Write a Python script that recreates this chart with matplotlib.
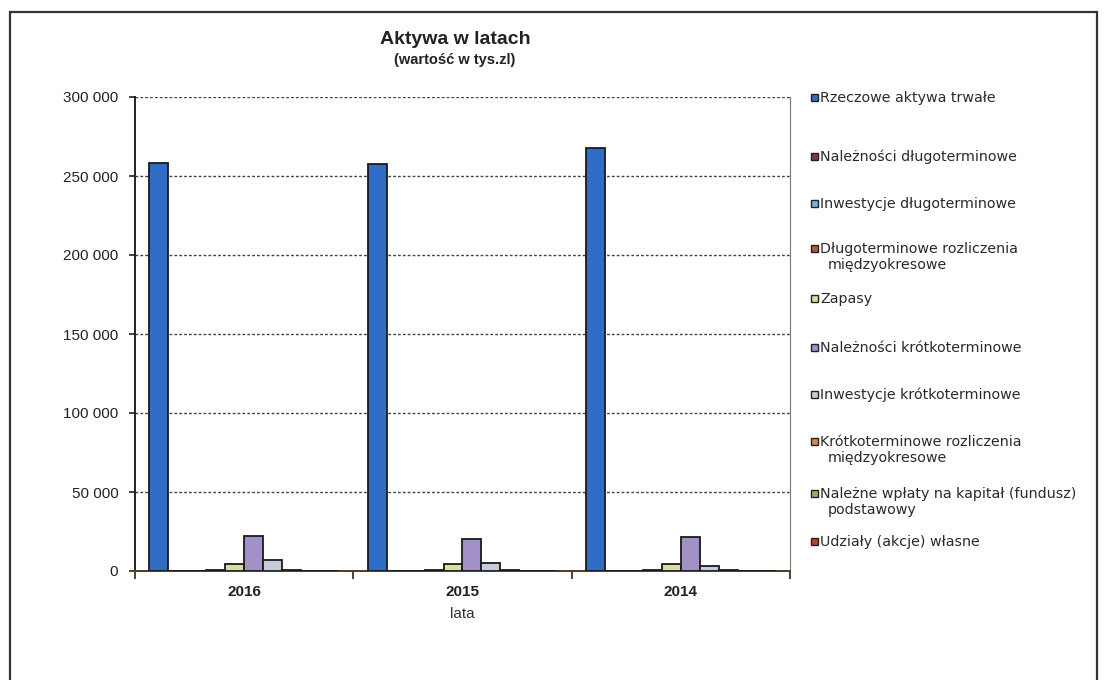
import matplotlib
matplotlib.use("Agg")
import matplotlib.pyplot as plt
from matplotlib.patches import Rectangle
from matplotlib.ticker import FuncFormatter, FixedLocator
import numpy as np

plt.rcParams["font.family"] = ["Liberation Sans", "DejaVu Sans"]

years = ["2016", "2015", "2014"]
series_labels = [
    "Rzeczowe aktywa trwałe",
    "Należności długoterminowe",
    "Inwestycje długoterminowe",
    "Długoterminowe rozliczenia\nmiędzyokresowe",
    "Zapasy",
    "Należności krótkoterminowe",
    "Inwestycje krótkoterminowe",
    "Krótkoterminowe rozliczenia\nmiędzyokresowe",
    "Należne wpłaty na kapitał (fundusz)\npodstawowy",
    "Udziały (akcje) własne",
]
rzeczowe = [258500, 257500, 267500]
naleznosci_dl = [0, 0, 0]
inwestycje_dl = [0, 0, 0]
rozliczenia_dl = [700, 500, 500]
zapasy = [4400, 4600, 4200]
naleznosci_kr = [22000, 20200, 21300]
inwestycje_kr = [7000, 5200, 3000]
rozliczenia_kr = [600, 500, 900]
nalezne_wplaty = [0, 0, 0]
udzialy = [0, 0, 0]
series_values = [rzeczowe, naleznosci_dl, inwestycje_dl, rozliczenia_dl, zapasy,
                 naleznosci_kr, inwestycje_kr, rozliczenia_kr, nalezne_wplaty, udzialy]
series_colors = ["#2F6DC6", "#7A3A55", "#7FB2D8", "#B5573A", "#D7DF9C",
                 "#A291C6", "#C4CCDD", "#D08A3C", "#8DB56A", "#C0392B"]

W, H = 1108, 680
fig = plt.figure(figsize=(W / 100, H / 100), dpi=100)
fig.patch.set_facecolor("white")

# outer chart frame (runs past the bottom edge)
fig.patches.append(Rectangle((10 / W, -0.05), (1097 - 10) / W, (H - 12) / H + 0.05,
                             transform=fig.transFigure, fill=False,
                             edgecolor="#333333", linewidth=1.6))

ax = fig.add_axes([135 / W, 1 - 571 / H, (790 - 135) / W, (571 - 97) / H])

n = len(series_values)
bar_w = 0.0868
gap = (1 - n * bar_w) / 2
x = np.arange(len(years))
for k, (vals, col) in enumerate(zip(series_values, series_colors)):
    lefts = x - 0.5 + gap + k * bar_w
    ax.bar(lefts, vals, width=bar_w, align="edge", color=col,
           edgecolor="#1a1a1a", linewidth=1.3, zorder=3)

ax.set_xlim(-0.5, 2.5)
ax.set_ylim(0, 300000)
ax.set_yticks(np.arange(0, 300001, 50000))
ax.yaxis.set_major_formatter(FuncFormatter(lambda v, p: f"{int(v):,}".replace(",", " ")))
ax.grid(axis="y", linestyle=(0, (2, 1.5)), color="#444444", linewidth=1.0, zorder=1)

ax.xaxis.set_major_locator(FixedLocator([-0.5, 0.5, 1.5, 2.5]))
ax.xaxis.set_major_formatter(FuncFormatter(lambda v, p: ""))
ax.xaxis.set_minor_locator(FixedLocator(x))
ax.set_xticklabels(years, minor=True, fontsize=11, fontweight="bold", color="#222222")
ax.tick_params(axis="x", which="minor", length=0, pad=10)
ax.tick_params(axis="x", which="major", length=6, width=1.2, direction="out", color="#222222")
ax.tick_params(axis="y", length=4, width=1.2, direction="out", labelsize=11,
               labelcolor="#222222", color="#222222", pad=8)

ax.spines["top"].set_visible(False)
ax.spines["right"].set_color("#777777")
ax.spines["right"].set_linestyle((0, (2, 1)))
ax.spines["left"].set_linewidth(1.4)
ax.spines["left"].set_color("#222222")
ax.spines["bottom"].set_linewidth(1.4)
ax.spines["bottom"].set_color("#5a3a20")

ax.set_xlabel("lata", fontsize=11, color="#333333", labelpad=6)

fig.text(455 / W, 1 - 40 / H, "Aktywa w latach", ha="center", va="center",
         fontsize=14, fontweight="bold", color="#222222")
fig.text(455 / W, 1 - 60 / H, "(wartość w tys.zl)", ha="center", va="center",
         fontsize=10.5, fontweight="bold", color="#222222")

# legend entries down the right side; y is the centre of each entry's first line,
# wrapped lines sit 16 px lower and slightly indented
legend_y = [97, 156, 203, 248, 298, 347, 394, 441, 493, 541]
for lab, col, yy in zip(series_labels, series_colors, legend_y):
    fig.patches.append(Rectangle((811 / W, 1 - (yy + 4) / H), 7 / W, 7 / H,
                                 transform=fig.transFigure, facecolor=col,
                                 edgecolor="#222222", linewidth=1.0))
    for j, line in enumerate(lab.split("\n")):
        fig.text((820 + 8 * (j > 0)) / W, 1 - (yy + 5 + 16 * j) / H, line,
                 ha="left", va="baseline", fontsize=10.3,
                 family=["DejaVu Sans"], color="#2a2a2a")

fig.savefig("out.png", dpi=100, facecolor="white")
